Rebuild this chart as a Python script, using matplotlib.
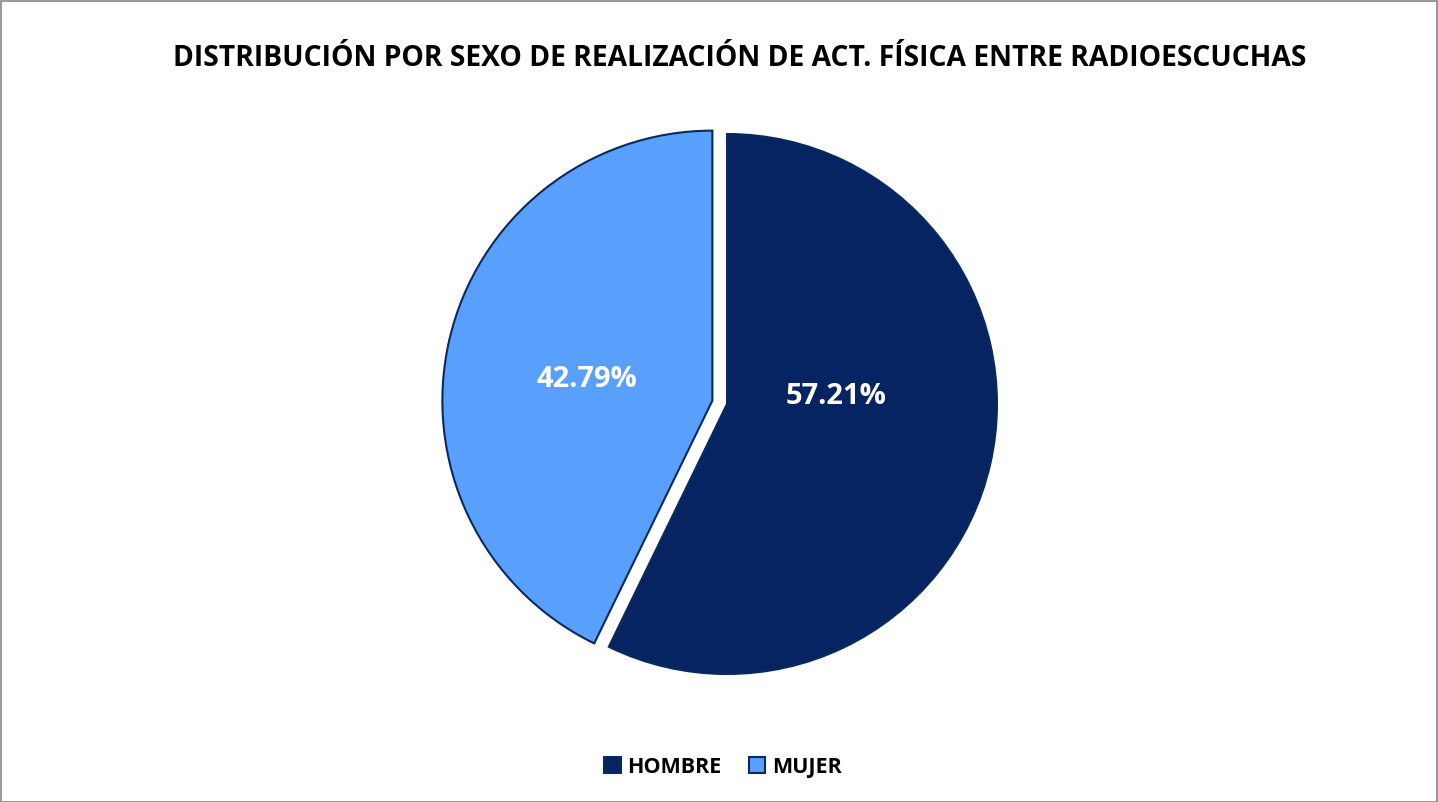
import matplotlib.pyplot as plt
from matplotlib.patches import Rectangle

categorias = ['HOMBRE', 'MUJER']
porcentajes = [57.21, 42.79]
colores = ['#062461', '#599FFC']
borde = '#0A2A5C'

W, H = 1438, 803
fig = plt.figure(figsize=(W / 100, H / 100), dpi=100)
ax = fig.add_axes([0, 0, 1, 1])

cx, cy, r = 727, H - 405, 270
# explode va en unidades de datos (no se escala con radius)
wedges, _ = ax.pie(porcentajes, colors=colores, startangle=90, counterclock=False,
                   explode=[0, 15], radius=r, center=(cx, cy),
                   wedgeprops=dict(edgecolor=borde, linewidth=1.5))
ax.set_xlim(0, W)
ax.set_ylim(0, H)
ax.set_aspect('equal')
ax.axis('off')

# etiquetas de porcentaje
pos = [(cx + 109, cy + 8), (cx - 140, cy + 25)]
for (x, y), v in zip(pos, porcentajes):
    ax.text(x, y, f'{v:.2f}%', color='white', fontsize=21, fontweight='bold',
            family='Open Sans', ha='center', va='center')

ax.text(W / 2 + 21, H - 58, 'DISTRIBUCIÓN POR SEXO DE REALIZACIÓN DE ACT. FÍSICA ENTRE RADIOESCUCHAS',
        fontsize=20.3, fontweight='bold', family='Open Sans', ha='center', va='center')

leg = ax.legend(wedges, categorias, loc='center', bbox_to_anchor=(723 / W, 1 - 768 / H),
                ncol=2, frameon=False, prop=dict(family='Open Sans', weight='bold', size=15.5),
                handlelength=0.75, handleheight=0.75, handletextpad=0.3, columnspacing=1.3)

# marco del gráfico
fig.patches.append(Rectangle((0.5 / W, 0.5 / H), 1 - 2 / W, 1 - 2 / H, transform=fig.transFigure,
                             fill=False, edgecolor='#888888', linewidth=1.2))

fig.savefig('out.png', dpi=100)
